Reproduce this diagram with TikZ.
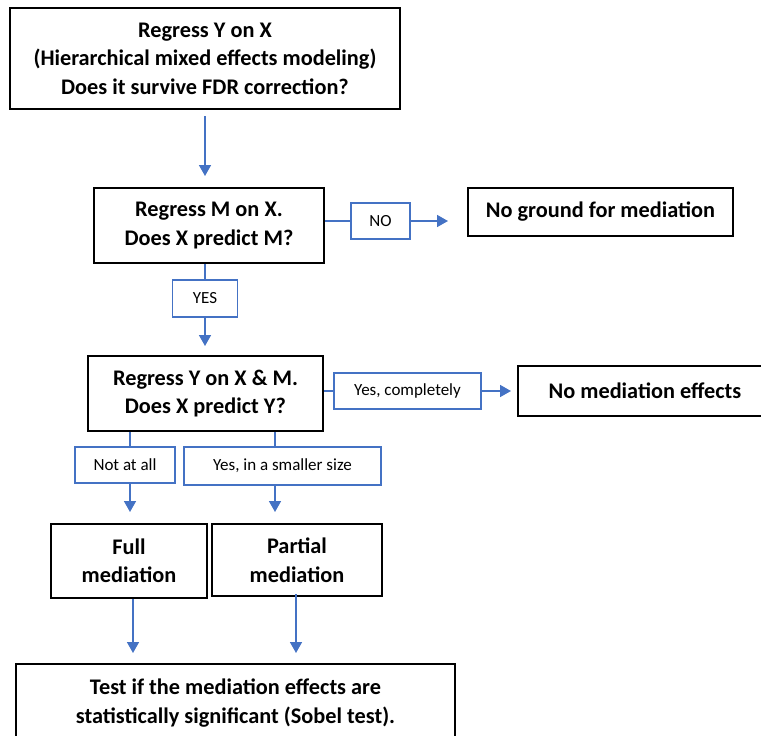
\documentclass[tikz,border=0pt]{standalone}
\usepackage{fontspec}
\setmainfont{Carlito}
\usetikzlibrary{arrows.meta,calc}
\definecolor{linkblue}{HTML}{4472C4}
\tikzset{
  mainbox/.style={draw=black, line width=2pt, fill=white, align=center, inner sep=0pt,
    font=\bfseries\fontsize{22.3}{28.5}\selectfont},
  lblbox/.style={draw=linkblue, line width=1.8pt, fill=white, inner sep=0pt, align=center,
    text=black, font=\fontsize{17}{20}\selectfont},
  conn/.style={draw=linkblue, line width=1.6pt},
  arr/.style={conn, -{Triangle[length=11pt,width=12pt]}},
}
\begin{document}
\begin{tikzpicture}[x=1pt,y=-1pt]
\useasboundingbox (0,0) rectangle (761,736);
\clip (0,0) rectangle (761,736);
% main boxes
\node[mainbox, minimum width=390pt, minimum height=101pt] (b1) at (205,58.5)
  {Regress Y on X\\(Hierarchical mixed effects modeling)\\Does it survive FDR correction?};
\node[mainbox, minimum width=230pt, minimum height=75pt] (b2) at (209,225.5)
  {Regress M on X.\\Does X predict M?};
\node[mainbox, minimum width=265pt, minimum height=48pt] (nog) at (600.5,212)
  {No ground for mediation};
\node[mainbox, minimum width=235pt, minimum height=75pt] (b3) at (205.5,393.5)
  {Regress Y on X \& M.\\Does X predict Y?};
\node[mainbox, minimum width=254pt, minimum height=50pt] (nme) at (645,391)
  {No mediation effects};
\node[mainbox, minimum width=156pt, minimum height=74pt] (full) at (129,561)
  {Full\\mediation};
\node[mainbox, minimum width=170pt, minimum height=72pt] (part) at (297,560)
  {Partial\\mediation};
\node[mainbox, minimum width=439pt, minimum height=78pt] (sob) at (235.5,703)
  {Test if the mediation effects are\\statistically significant (Sobel test).};
% label boxes
\node[lblbox, minimum width=59pt, minimum height=36pt] (no) at (380.5,221) {NO};
\node[lblbox, minimum width=65pt, minimum height=37pt] (yes) at (205,298.5) {YES};
\node[lblbox, minimum width=147pt, minimum height=36pt] (ycomp) at (407.5,391) {Yes, completely};
\node[lblbox, minimum width=100pt, minimum height=36pt] (nall) at (125,465) {Not at all};
\node[lblbox, minimum width=197pt, minimum height=38pt] (ysmall) at (282.5,466) {Yes, in a smaller size};
% connectors
\draw[arr, shorten <=6pt, shorten >=11pt] (b1.south) -- (b1.south |- b2.north);
\draw[conn] (b2.east |- no.west) -- (no.west);
\draw[arr, shorten >=19pt] (no.east) -- (nog.west |- no.east);
\draw[conn] (yes.north |- b2.south) -- (yes.north);
\draw[arr, shorten >=9pt] (yes.south) -- (yes.south |- b3.north);
\draw[conn] (b3.east |- ycomp.west) -- (ycomp.west);
\draw[arr, shorten >=6pt] (ycomp.east) -- (nme.west |- ycomp.east);
\coordinate (nx) at (130,0);
\coordinate (sx) at (275,0);
\draw[conn] (nx |- b3.south) -- (nx |- nall.north);
\draw[arr, shorten >=11pt] (nx |- nall.south) -- (nx |- full.north);
\draw[conn] (sx |- b3.south) -- (sx |- ysmall.north);
\draw[arr, shorten >=11pt] (sx |- ysmall.south) -- (sx |- part.north);
\coordinate (fx) at (133,0);
\coordinate (px) at (296,0);
\draw[arr, shorten >=10pt] (fx |- full.south) -- (fx |- sob.north);
\draw[arr, shorten <=-3pt, shorten >=10pt] (px |- part.south) -- (px |- sob.north);
\end{tikzpicture}
\end{document}
